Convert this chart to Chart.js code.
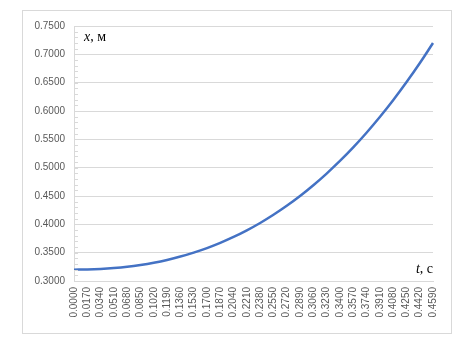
<!DOCTYPE html>
<html>
<head>
<meta charset="utf-8">
<script src="https://cdn.jsdelivr.net/npm/chart.js@4"></script>
<style>
  html, body { margin: 0; padding: 0; background: #fff; }
  #box { position: absolute; left: 22px; top: 10px; width: 428px; height: 322px; border: 1px solid #d9d9d9; }
  canvas { display: block; }
</style>
</head>
<body>
<div id="box"><canvas id="chart" width="428" height="322"></canvas></div>
<script>
const times = ['0.0000','0.0170','0.0340','0.0510','0.0680','0.0850','0.1020','0.1190','0.1360','0.1530',
  '0.1700','0.1870','0.2040','0.2210','0.2380','0.2550','0.2720','0.2890','0.3060','0.3230',
  '0.3400','0.3570','0.3740','0.3910','0.4080','0.4250','0.4420','0.4590'];
const xValues = [0.3200,0.3203,0.3212,0.3228,0.3251,0.3283,0.3323,0.3372,0.3431,0.3501,
  0.3581,0.3673,0.3777,0.3894,0.4024,0.4168,0.4327,0.4500,0.4690,0.4896,
  0.5118,0.5358,0.5617,0.5894,0.6190,0.6506,0.6842,0.7200];
const yMin = 0.3, yMax = 0.75, yStep = 0.05;

const tickFont = { family: 'Liberation Sans', size: 10 };

const extras = {
  id: 'extras',
  afterDraw(chart) {
    const { ctx, chartArea: a, scales: { y } } = chart;
    ctx.save();
    // minor ticks
    ctx.strokeStyle = '#d9d9d9';
    ctx.lineWidth = 1;
    for (let v = yMin; v < yMax; v += 0.01) {
      const p = Math.round(y.getPixelForValue(v)) + 0.5;
      ctx.beginPath();
      ctx.moveTo(a.left, p);
      ctx.lineTo(a.left + 4, p);
      ctx.stroke();
    }
    // axis titles
    ctx.fillStyle = '#000';
    ctx.textBaseline = 'alphabetic';
    ctx.font = 'italic 14px "Liberation Serif"';
    ctx.fillText('x', a.left + 10, a.top + 15);
    let w = ctx.measureText('x').width;
    ctx.font = '14px "Liberation Serif"';
    ctx.fillText(', м', a.left + 10 + w, a.top + 15);
    ctx.textAlign = 'right';
    ctx.fillText(', с', a.right, a.bottom - 8);
    const w2 = ctx.measureText(', с').width;
    ctx.font = 'italic 14px "Liberation Serif"';
    ctx.fillText('t', a.right - w2, a.bottom - 8);
    ctx.restore();
  }
};

new Chart(document.getElementById('chart'), {
  type: 'line',
  data: {
    labels: times,
    datasets: [{
      data: xValues,
      borderColor: '#4472C4',
      borderWidth: 2.5,
      pointRadius: 0,
      tension: 0.4,
      fill: false
    }]
  },
  options: {
    responsive: false,
    animation: false,
    events: [],
    layout: { padding: { top: 14, right: 17, left: 0, bottom: 0 } },
    plugins: { legend: { display: false }, tooltip: { enabled: false } },
    scales: {
      x: {
        type: 'category',
        offset: false,
        grid: { display: false, drawTicks: false },
        border: { display: true, color: '#d9d9d9', width: 1 },
        ticks: {
          autoSkip: false, minRotation: 90, maxRotation: 90, padding: 6,
          color: '#595959', font: tickFont
        },
        afterFit(s) { s.height = 52; }
      },
      y: {
        min: yMin, max: yMax,
        grid: { color: '#d9d9d9', drawTicks: false },
        border: { display: true, color: '#d9d9d9', width: 1 },
        ticks: {
          stepSize: yStep, padding: 9, color: '#595959', font: tickFont,
          callback: v => Number(v).toFixed(4)
        },
        afterFit(s) { s.width = 51; }
      }
    }
  },
  plugins: [extras]
});
</script>
</body>
</html>
